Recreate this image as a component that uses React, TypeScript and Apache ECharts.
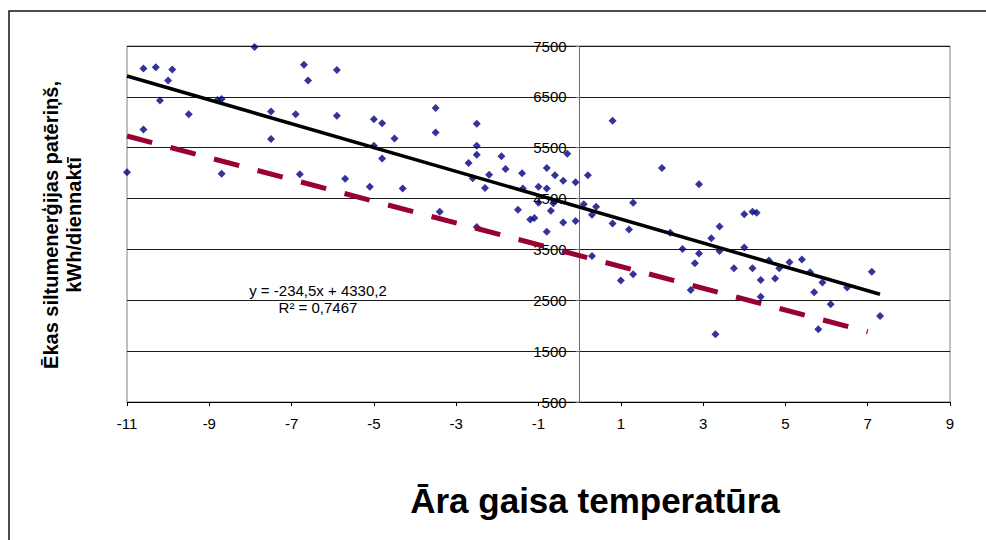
import React, { useEffect, useRef } from "react";
import * as echarts from "echarts";

// Outdoor air temperature (°C) of each day
const temperature = [
  -11.0, -10.6, -10.3, -9.9, -10.0, -10.2, -10.6, -9.5, -7.9, -8.8, -8.7, -8.7,
  -7.5, -7.5, -6.9, -6.8, -6.7, -6.6, -5.9, -5.9, -5.7, -5.1, -5.0, -4.8, -5.0,
  -4.8, -4.5, -4.3, -3.5, -3.5, -3.4, -2.7, -2.6, -2.5, -2.5, -2.5, -2.5, -2.3,
  -2.2, -1.9, -1.8, -1.5, -1.4, -1.38, -1.2, -1.1, -1.0, -1.0, -0.8, -0.8, -0.8,
  -0.7, -0.64, -0.6, -0.4, -0.3, -0.4, -0.1, -0.1, 0.1, 0.2, 0.3, 0.4, 0.3, 0.8,
  0.8, 1.0, 1.2, 1.3, 1.3, 2.0, 2.2, 2.5, 2.7, 2.8, 2.9, 2.9, 3.2, 3.3, 3.4, 3.4,
  3.75, 4.0, 4.0, 4.2, 4.3, 4.2, 4.4, 4.4, 4.6, 4.75, 4.85, 5.1, 5.4, 5.6, 5.7,
  5.8, 5.9, 6.1, 6.5, 7.1, 7.3,
];
// Building heat consumption (kWh/day) of each day
const consumption = [
  5020, 7060, 7080, 7040, 6820, 6430, 5860, 6160, 7480, 6440, 6460, 4990,
  6210, 5670, 6160, 4980, 7130, 6820, 7030, 6130, 4890, 4730, 6060, 5980, 5540,
  5290, 5680, 4700, 6280, 5800, 4240, 5200, 4900, 5970, 5540, 5360, 3940, 4710,
  4970, 5330, 5080, 4280, 5000, 4700, 4090, 4120, 4730, 4420, 5100, 4700, 3850,
  4260, 4410, 4960, 4850, 5380, 4030, 4820, 4060, 4390, 4960, 4180, 4340, 3370, 6030,
  4010, 2890, 3890, 4420, 3010, 5100, 3830, 3510, 2700, 3230, 4780, 3420, 3720, 1830, 3950, 3470,
  3130, 4190, 3540, 4240, 4220, 3130, 2900, 2570, 3280, 2930, 3130, 3250, 3300, 3050, 2660,
  1930, 2850, 2420, 2750, 3060, 2190,
];

// Linear trendline (from the chart's equation label)
const trendSlope = -234.5;
const trendIntercept = 4330.2;
const trendRangeX = [-11, 7.3];
const trendEquation = "y = -234,5x + 4330,2";
const trendR2 = "R² = 0,7467";

// Dashed reference line end points
const refLineX = [-11, 7];
const refLineY = [5730, 1880];

// Axes
const xMin = -11;
const xMax = 9;
const xStep = 2;
const yMin = 500;
const yMax = 7500;
const yStep = 1000;

const xTitle = "Āra gaisa temperatūra";
const yTitle = "Ēkas siltumenerģijas patēriņš,\nkWh/diennaktī";

const FONT = "'Liberation Sans', Arial, sans-serif";

const GRID_LEFT = 127;
const GRID_RIGHT = 36;
const GRID_WIDTH = 986 - GRID_LEFT - GRID_RIGHT;

export default function App() {
  const ref = useRef<HTMLDivElement>(null);

  useEffect(() => {
    if (!ref.current) return;
    const chart = echarts.init(ref.current, undefined, { renderer: "svg" });

    const points = temperature.map((t, i) => [t, consumption[i]]);
    const trend = trendRangeX.map((x) => [x, trendSlope * x + trendIntercept]);
    const refLine = refLineX.map((x, i) => [x, refLineY[i]]);
    // y axis crosses the x axis at 0
    const yAxisOffset = -((0 - xMin) / (xMax - xMin)) * GRID_WIDTH;

    chart.setOption({
      animation: false,
      backgroundColor: "#ffffff",
      textStyle: { fontFamily: FONT },
      grid: {
        left: GRID_LEFT,
        top: 46,
        right: GRID_RIGHT,
        bottom: 138,
        show: true,
        borderColor: "#808080",
        borderWidth: 1,
        backgroundColor: "transparent",
        containLabel: false,
        outerBoundsMode: "none",
      },
      xAxis: {
        type: "value",
        min: xMin,
        max: xMax,
        interval: xStep,
        axisLine: { show: true, onZero: false, lineStyle: { color: "#000", width: 1 } },
        axisTick: { show: true, length: 4, lineStyle: { color: "#000" } },
        axisLabel: { color: "#000", fontSize: 15, fontFamily: FONT, margin: 14 },
        splitLine: { show: false },
      },
      yAxis: {
        type: "value",
        min: yMin,
        max: yMax,
        interval: yStep,
        position: "left",
        offset: yAxisOffset,
        axisLine: { show: true, onZero: false, lineStyle: { color: "#707070", width: 1 } },
        axisTick: { show: true, length: 4, lineStyle: { color: "#707070" } },
        axisLabel: {
          color: "#000",
          fontSize: 15,
          fontFamily: FONT,
          margin: 13,
          formatter: (v: number) => String(v),
        },
        splitLine: { show: true, lineStyle: { color: "#1a1a1a", width: 1 } },
      },
      series: [
        {
          type: "scatter",
          data: points,
          symbol: "diamond",
          symbolSize: 8,
          itemStyle: { color: "#000080" },
          z: 2,
        },
        {
          type: "line",
          data: trend,
          showSymbol: false,
          symbol: "none",
          lineStyle: { color: "#000000", width: 3.5 },
          z: 3,
        },
        {
          type: "line",
          data: refLine,
          showSymbol: false,
          symbol: "none",
          lineStyle: { color: "#990033", width: 5, type: [26, 19], cap: "butt" },
          z: 3,
        },
      ],
      graphic: [
        {
          type: "rect",
          shape: { x: 9, y: 11, width: 1200, height: 800 },
          style: { fill: "none", stroke: "#111", lineWidth: 1.5 },
          silent: true,
          z: 10,
        },
        {
          type: "text",
          x: 318,
          y: 290,
          style: {
            text: trendEquation,
            fill: "#000",
            font: `15px ${FONT}`,
            textAlign: "center",
            textVerticalAlign: "middle",
            verticalAlign: "middle",
          },
          z: 10,
        },
        {
          type: "text",
          x: 318,
          y: 307,
          style: {
            text: trendR2,
            fill: "#000",
            font: `15px ${FONT}`,
            textAlign: "center",
            textVerticalAlign: "middle",
            verticalAlign: "middle",
          },
          z: 10,
        },
        {
          type: "text",
          x: 595,
          y: 500,
          style: {
            text: xTitle,
            fill: "#000",
            font: `bold 35px ${FONT}`,
            textAlign: "center",
            textVerticalAlign: "middle",
            verticalAlign: "middle",
          },
          z: 10,
        },
        {
          type: "text",
          x: 62,
          y: 225,
          rotation: Math.PI / 2,
          style: {
            text: yTitle,
            fill: "#000",
            font: `bold 20px ${FONT}`,
            lineHeight: 23,
            textAlign: "center",
            textVerticalAlign: "middle",
            verticalAlign: "middle",
          },
          z: 10,
        },
      ],
    });

    return () => {
      chart.dispose();
    };
  }, []);

  return (
    <div
      ref={ref}
      style={{ position: "fixed", left: 0, top: 0, width: 986, height: 540, background: "#fff" }}
    />
  );
}
